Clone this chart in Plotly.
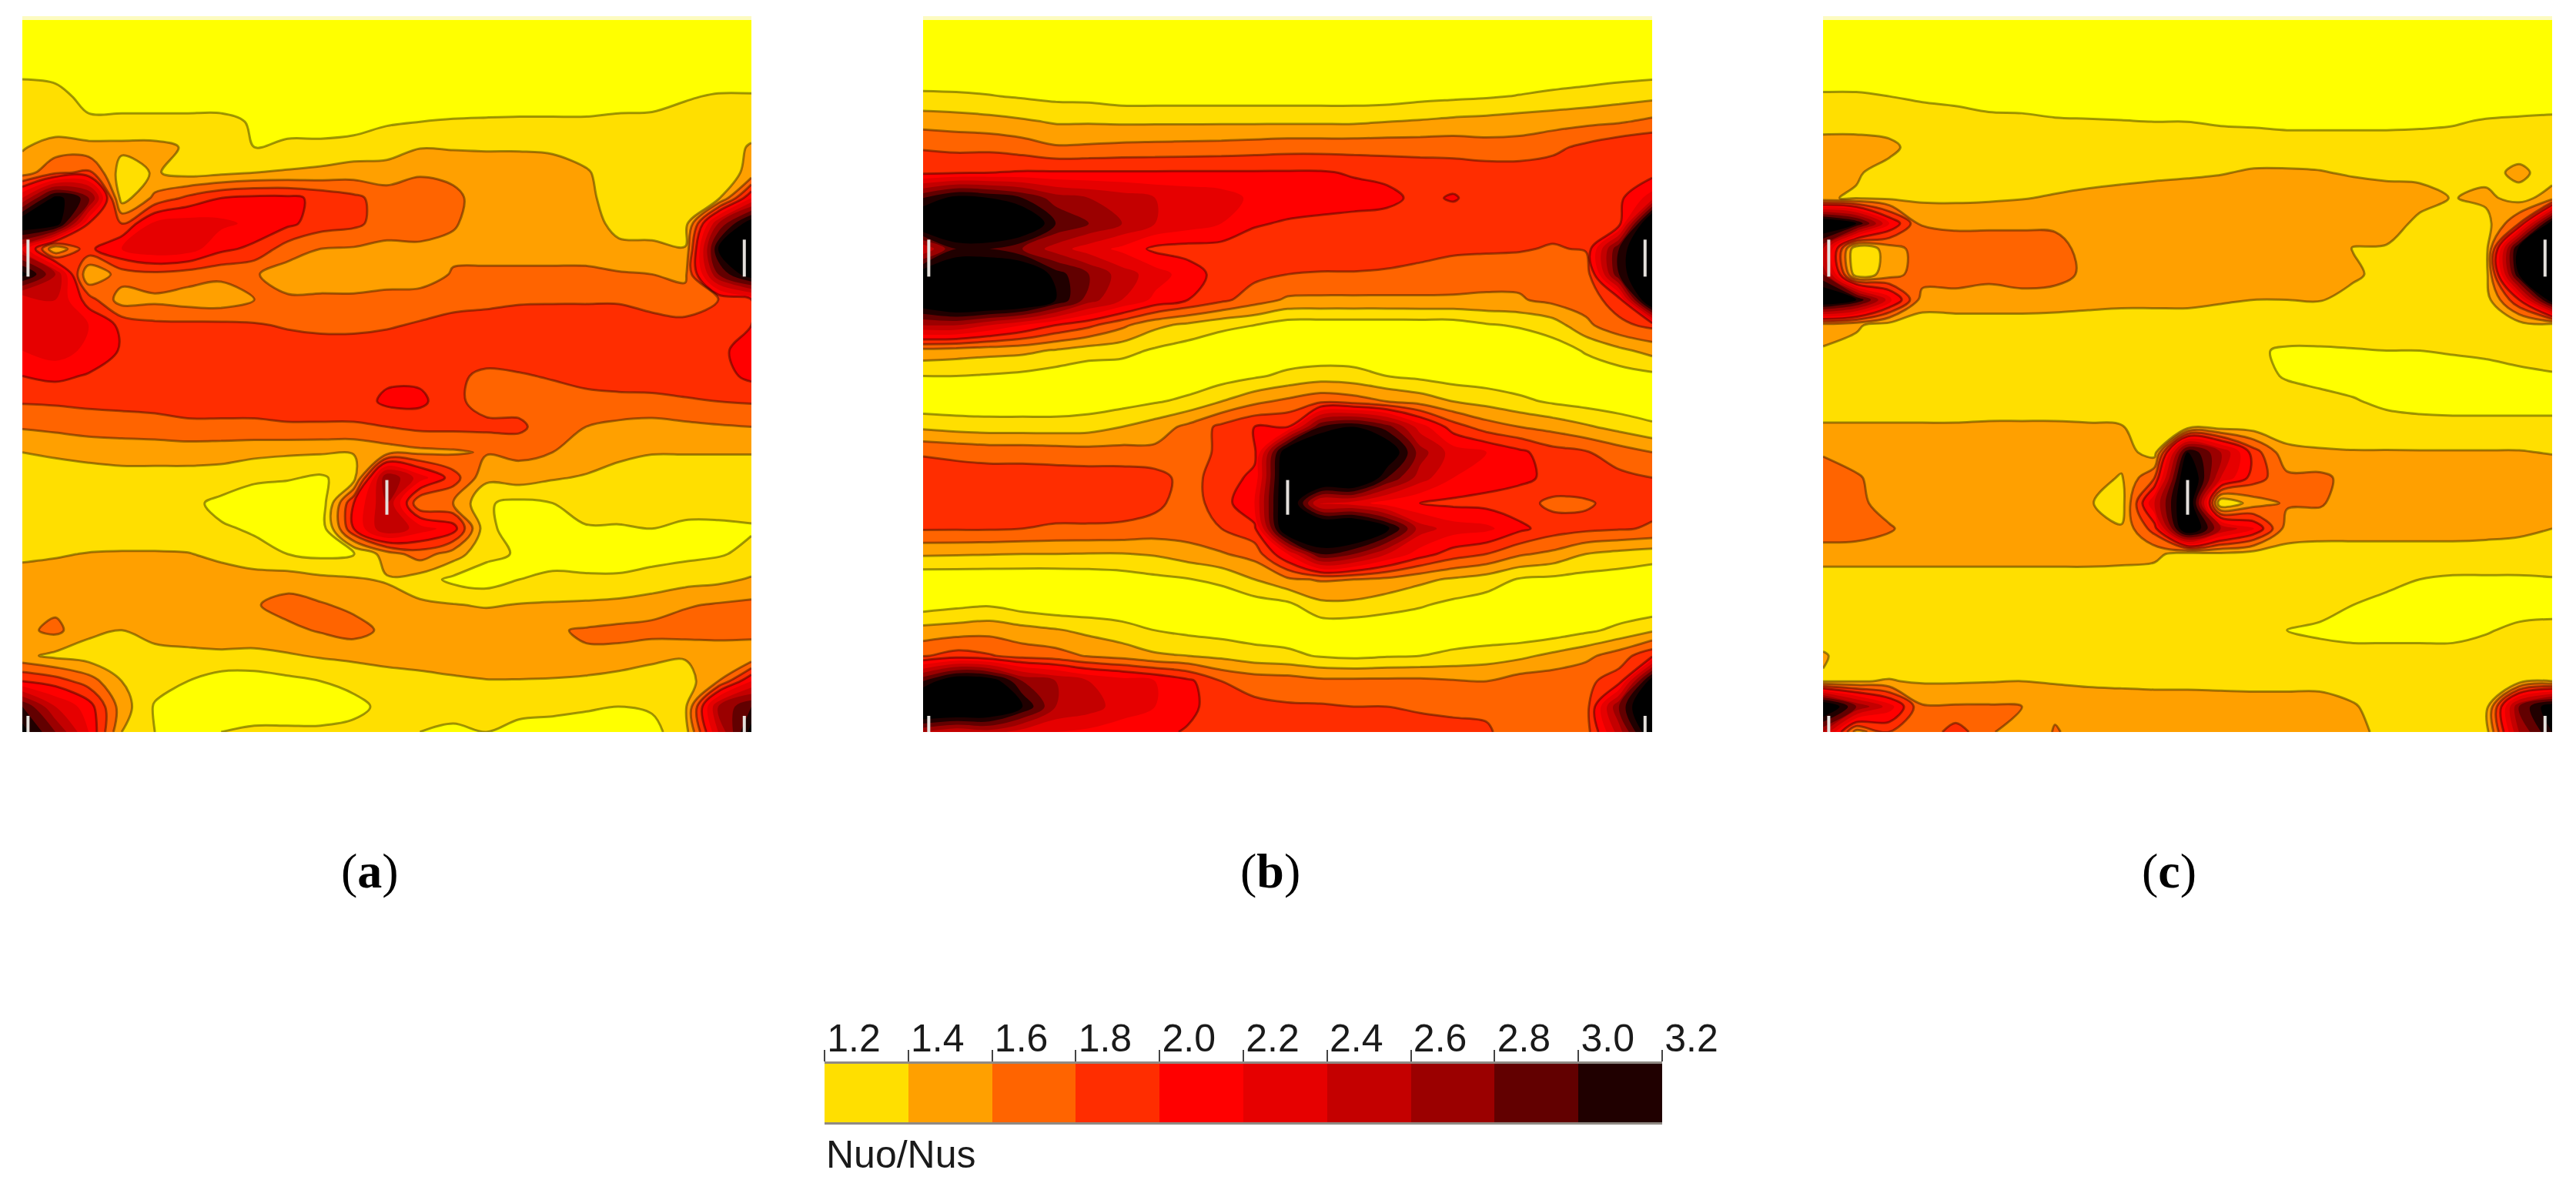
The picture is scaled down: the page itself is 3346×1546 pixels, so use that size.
import plotly.graph_objects as go

W, H = 3346, 1546

# grid positions inside one panel (same for all three)
x_pos = [0, 70, 140, 210, 280, 350, 420, 490, 560, 630, 700, 770, 840, 910, 980, 1050, 1120, 1190, 1260, 1330, 1400, 1470, 1540]
y_pos = [0, 55, 110, 165, 220, 275, 330, 385, 440, 495, 550, 605, 660, 715, 770, 825, 880, 935, 990, 1045, 1100, 1155, 1210, 1265, 1320, 1375, 1430, 1485, 1540]

levels = [1.2, 1.4, 1.6, 1.8, 2.0, 2.2, 2.4, 2.6, 2.8, 3.0, 3.2]
band_colors = ["#ffff00", "#ffdf00", "#ffa000", "#ff6400", "#ff2d00", "#ff0000", "#e60000",
               "#c40000", "#9b0000", "#620000", "#200000", "#000000"]
tick_labels = ["1.2", "1.4", "1.6", "1.8", "2.0", "2.2", "2.4", "2.6", "2.8", "3.0", "3.2"]
band_mid = [1.3, 1.5, 1.7, 1.9, 2.1, 2.3, 2.5, 2.7, 2.9, 3.1]
panel_labels = ["(<b>a</b>)", "(<b>b</b>)", "(<b>c</b>)"]

# Nuo/Nus, one row per y_pos
z_a = [
    [1.0, 1.0, 1.0, 1.0, 1.0, 1.0, 1.0, 1.0, 1.0, 1.0, 1.0, 1.0, 1.0, 1.0, 1.0, 1.0, 1.0, 1.0, 1.0, 1.0, 1.0, 1.0, 1.0],
    [1.0, 1.0, 1.0, 1.0, 1.0, 1.0, 1.0, 1.0, 1.0, 1.0, 1.0, 1.0, 1.0, 1.0, 1.0, 1.0, 1.0, 1.0, 1.0, 1.0, 1.0, 1.0, 1.0],
    [1.15, 1.1, 1.05, 1.0, 1.0, 1.0, 1.0, 1.0, 1.0, 1.0, 1.0, 1.0, 1.0, 1.0, 1.0, 1.0, 1.0, 1.0, 1.0, 1.0, 1.0, 1.05, 1.05],
    [1.3, 1.3, 1.1, 1.1, 1.1, 1.1, 1.1, 1.1, 1.05, 1.05, 1.05, 1.05, 1.05, 1.05, 1.05, 1.08, 1.08, 1.08, 1.1, 1.12, 1.18, 1.22, 1.22],
    [1.3, 1.25, 1.25, 1.25, 1.25, 1.25, 1.25, 1.18, 1.1, 1.1, 1.12, 1.18, 1.2, 1.22, 1.23, 1.23, 1.23, 1.23, 1.25, 1.25, 1.28, 1.3, 1.3],
    [1.38, 1.5, 1.45, 1.45, 1.45, 1.38, 1.25, 1.2, 1.25, 1.25, 1.27, 1.3, 1.39, 1.38, 1.38, 1.38, 1.37, 1.32, 1.3, 1.3, 1.3, 1.3, 1.42],
    [1.5, 1.75, 1.85, 1.3, 1.42, 1.32, 1.35, 1.4, 1.42, 1.45, 1.5, 1.5, 1.58, 1.55, 1.5, 1.5, 1.48, 1.42, 1.3, 1.3, 1.3, 1.3, 1.45],
    [2.4, 3.3, 2.9, 1.3, 1.65, 1.85, 2.0, 2.05, 2.05, 1.95, 1.85, 1.7, 1.7, 1.65, 1.5, 1.5, 1.5, 1.45, 1.3, 1.3, 1.3, 1.35, 2.2],
    [3.5, 3.4, 2.0, 1.8, 2.25, 2.3, 2.25, 2.15, 2.05, 1.9, 1.85, 1.7, 1.65, 1.62, 1.5, 1.5, 1.5, 1.5, 1.33, 1.3, 1.3, 2.6, 3.4],
    [2.4, 1.4, 1.95, 2.2, 2.35, 2.3, 2.05, 1.95, 1.7, 1.6, 1.58, 1.55, 1.58, 1.55, 1.5, 1.5, 1.5, 1.5, 1.45, 1.45, 1.41, 3.2, 3.4],
    [3.3, 2.6, 1.4, 1.7, 1.75, 1.7, 1.65, 1.62, 1.5, 1.45, 1.45, 1.45, 1.48, 1.62, 1.65, 1.65, 1.65, 1.65, 1.62, 1.6, 1.55, 2.8, 3.4],
    [2.2, 2.4, 1.9, 1.5, 1.55, 1.5, 1.48, 1.6, 1.63, 1.65, 1.65, 1.7, 1.7, 1.75, 1.77, 1.78, 1.78, 1.78, 1.78, 1.72, 1.7, 1.8, 2.0],
    [2.25, 2.35, 2.2, 1.95, 1.85, 1.85, 1.85, 1.82, 1.78, 1.75, 1.75, 1.78, 1.82, 1.85, 1.85, 1.88, 1.9, 1.9, 1.9, 1.88, 1.85, 1.9, 2.0],
    [2.2, 2.3, 2.15, 1.98, 1.9, 1.9, 1.9, 1.9, 1.9, 1.9, 1.9, 1.9, 1.9, 1.9, 1.92, 1.92, 1.92, 1.92, 1.92, 1.92, 1.92, 1.95, 2.1],
    [2.0, 2.05, 1.98, 1.9, 1.9, 1.9, 1.9, 1.9, 1.9, 1.9, 1.9, 1.95, 1.95, 1.85, 1.75, 1.78, 1.82, 1.88, 1.9, 1.9, 1.9, 1.92, 2.05],
    [1.82, 1.83, 1.85, 1.86, 1.87, 1.88, 1.88, 1.88, 1.88, 1.88, 1.88, 2.05, 2.05, 1.85, 1.72, 1.7, 1.7, 1.72, 1.74, 1.75, 1.78, 1.8, 1.82],
    [1.62, 1.65, 1.68, 1.7, 1.72, 1.76, 1.76, 1.76, 1.78, 1.78, 1.78, 1.8, 1.85, 1.85, 1.85, 1.85, 1.65, 1.6, 1.55, 1.52, 1.55, 1.58, 1.6],
    [1.4, 1.43, 1.47, 1.48, 1.48, 1.48, 1.47, 1.45, 1.43, 1.42, 1.41, 1.5, 1.55, 1.57, 1.62, 1.65, 1.6, 1.52, 1.45, 1.41, 1.41, 1.41, 1.41],
    [1.3, 1.3, 1.3, 1.33, 1.33, 1.33, 1.32, 1.25, 1.22, 1.17, 1.3, 2.8, 2.3, 1.9, 1.45, 1.5, 1.42, 1.38, 1.32, 1.3, 1.3, 1.3, 1.3],
    [1.25, 1.25, 1.25, 1.25, 1.25, 1.25, 1.15, 1.05, 1.05, 1.05, 2.0, 2.6, 1.6, 1.6, 1.22, 1.15, 1.2, 1.3, 1.3, 1.3, 1.3, 1.3, 1.28],
    [1.25, 1.25, 1.25, 1.25, 1.25, 1.25, 1.22, 1.18, 1.1, 1.05, 2.0, 2.6, 2.3, 2.1, 1.25, 1.1, 1.18, 1.18, 1.18, 1.2, 1.15, 1.15, 1.18],
    [1.35, 1.38, 1.41, 1.42, 1.42, 1.41, 1.35, 1.25, 1.2, 1.15, 1.18, 1.5, 1.7, 1.5, 1.25, 1.18, 1.1, 1.05, 1.05, 1.1, 1.15, 1.18, 1.25],
    [1.5, 1.5, 1.5, 1.52, 1.52, 1.52, 1.5, 1.5, 1.5, 1.45, 1.42, 1.38, 1.3, 1.15, 1.1, 1.2, 1.25, 1.25, 1.25, 1.3, 1.32, 1.35, 1.42],
    [1.55, 1.55, 1.55, 1.55, 1.55, 1.55, 1.55, 1.58, 1.68, 1.62, 1.55, 1.5, 1.43, 1.41, 1.38, 1.41, 1.42, 1.43, 1.45, 1.48, 1.58, 1.62, 1.65],
    [1.55, 1.65, 1.45, 1.4, 1.48, 1.5, 1.52, 1.52, 1.55, 1.62, 1.68, 1.55, 1.52, 1.52, 1.55, 1.55, 1.58, 1.62, 1.65, 1.68, 1.7, 1.72, 1.7],
    [1.45, 1.35, 1.3, 1.3, 1.33, 1.35, 1.36, 1.35, 1.38, 1.42, 1.45, 1.48, 1.5, 1.5, 1.52, 1.52, 1.55, 1.58, 1.55, 1.45, 1.42, 1.42, 1.42],
    [2.0, 1.9, 1.7, 1.4, 1.28, 1.2, 1.1, 1.1, 1.15, 1.2, 1.25, 1.3, 1.33, 1.37, 1.39, 1.39, 1.38, 1.35, 1.3, 1.3, 1.3, 1.6, 2.2],
    [3.0, 2.4, 2.1, 1.5, 1.18, 1.1, 1.05, 1.05, 1.05, 1.05, 1.15, 1.25, 1.3, 1.3, 1.3, 1.25, 1.25, 1.22, 1.2, 1.22, 1.35, 2.6, 3.0],
    [3.3, 2.8, 2.2, 1.4, 1.2, 1.15, 1.2, 1.25, 1.25, 1.25, 1.25, 1.25, 1.2, 1.15, 1.2, 1.15, 1.12, 1.12, 1.12, 1.15, 1.3, 2.4, 3.3],
]

z_b = [
    [1.0, 1.0, 1.0, 1.0, 1.0, 1.0, 1.0, 1.0, 1.0, 1.0, 1.0, 1.0, 1.0, 1.0, 1.0, 1.0, 1.0, 1.0, 1.0, 1.0, 1.0, 1.0, 1.0],
    [1.0, 1.0, 1.0, 1.0, 1.0, 1.0, 1.0, 1.0, 1.0, 1.0, 1.0, 1.0, 1.0, 1.0, 1.0, 1.0, 1.0, 1.0, 1.0, 1.0, 1.0, 1.0, 1.0],
    [1.05, 1.05, 1.05, 1.05, 1.05, 1.05, 1.05, 1.05, 1.05, 1.05, 1.05, 1.05, 1.05, 1.05, 1.05, 1.05, 1.05, 1.05, 1.05, 1.05, 1.08, 1.1, 1.12],
    [1.24, 1.23, 1.21, 1.18, 1.15, 1.14, 1.1, 1.1, 1.1, 1.1, 1.1, 1.1, 1.1, 1.1, 1.1, 1.14, 1.16, 1.18, 1.21, 1.25, 1.28, 1.32, 1.35],
    [1.52, 1.5, 1.47, 1.43, 1.38, 1.38, 1.37, 1.37, 1.37, 1.37, 1.37, 1.37, 1.37, 1.37, 1.4, 1.42, 1.45, 1.47, 1.5, 1.52, 1.55, 1.58, 1.65],
    [1.78, 1.75, 1.75, 1.7, 1.62, 1.63, 1.65, 1.66, 1.67, 1.68, 1.7, 1.72, 1.72, 1.72, 1.72, 1.72, 1.72, 1.68, 1.68, 1.75, 1.85, 1.95, 2.0],
    [1.95, 1.98, 2.0, 2.02, 2.02, 2.02, 2.02, 2.02, 2.02, 2.02, 2.02, 2.02, 2.02, 1.98, 1.95, 1.92, 1.9, 1.9, 1.9, 1.9, 1.9, 1.9, 1.92],
    [3.0, 3.3, 3.2, 3.0, 2.7, 2.6, 2.5, 2.4, 2.35, 2.3, 2.15, 2.1, 2.1, 2.08, 2.05, 1.95, 2.02, 1.9, 1.9, 1.9, 1.9, 1.95, 2.3],
    [3.6, 3.8, 3.8, 3.6, 3.0, 2.8, 2.6, 2.4, 2.3, 2.2, 2.02, 1.98, 1.95, 1.93, 1.92, 1.9, 1.88, 1.88, 1.88, 1.88, 1.85, 1.9, 3.8],
    [2.4, 3.0, 3.0, 2.8, 2.5, 2.3, 2.15, 1.95, 1.92, 1.92, 1.9, 1.88, 1.88, 1.88, 1.87, 1.87, 1.83, 1.83, 1.82, 1.78, 1.82, 3.0, 3.8],
    [3.4, 3.6, 3.6, 3.6, 3.1, 2.8, 2.5, 2.3, 2.1, 1.92, 1.85, 1.8, 1.79, 1.79, 1.78, 1.74, 1.72, 1.67, 1.66, 1.65, 1.65, 3.0, 3.8],
    [3.5, 3.8, 3.8, 3.7, 3.2, 2.7, 2.4, 2.15, 2.0, 1.85, 1.7, 1.57, 1.56, 1.56, 1.56, 1.57, 1.57, 1.57, 1.58, 1.66, 1.7, 1.9, 3.8],
    [2.6, 2.6, 2.4, 2.2, 2.0, 1.85, 1.65, 1.45, 1.35, 1.25, 1.2, 1.1, 1.1, 1.1, 1.1, 1.1, 1.1, 1.18, 1.22, 1.3, 1.55, 1.75, 1.85],
    [1.53, 1.5, 1.47, 1.45, 1.38, 1.3, 1.27, 1.17, 1.1, 1.05, 1.05, 1.05, 1.05, 1.05, 1.05, 1.05, 1.05, 1.05, 1.05, 1.1, 1.22, 1.35, 1.47],
    [1.2, 1.2, 1.18, 1.15, 1.1, 1.05, 1.05, 1.05, 1.05, 1.1, 1.17, 1.25, 1.3, 1.28, 1.2, 1.15, 1.1, 1.08, 1.05, 1.05, 1.08, 1.1, 1.15],
    [1.05, 1.05, 1.05, 1.05, 1.05, 1.08, 1.12, 1.18, 1.25, 1.4, 1.55, 1.65, 1.75, 1.7, 1.6, 1.52, 1.4, 1.33, 1.25, 1.17, 1.12, 1.08, 1.05],
    [1.36, 1.32, 1.3, 1.3, 1.3, 1.32, 1.4, 1.5, 1.65, 1.85, 2.0, 2.0, 3.0, 3.2, 2.9, 2.3, 1.9, 1.7, 1.6, 1.53, 1.43, 1.33, 1.24],
    [1.78, 1.75, 1.72, 1.72, 1.7, 1.68, 1.68, 1.65, 1.68, 1.85, 1.95, 3.5, 3.8, 3.8, 3.5, 2.7, 2.3, 2.2, 2.05, 1.88, 1.82, 1.7, 1.6],
    [1.9, 1.9, 1.9, 1.9, 1.9, 1.9, 1.9, 1.88, 1.72, 1.9, 2.05, 3.6, 3.8, 3.8, 3.0, 2.5, 2.2, 2.1, 2.05, 1.95, 1.9, 1.85, 1.8],
    [1.88, 1.88, 1.88, 1.88, 1.88, 1.88, 1.88, 1.85, 1.7, 1.9, 2.2, 3.6, 2.3, 2.3, 2.1, 2.0, 1.95, 1.93, 1.88, 1.75, 1.78, 1.85, 1.85],
    [1.82, 1.82, 1.82, 1.8, 1.78, 1.78, 1.77, 1.72, 1.72, 1.8, 1.95, 3.6, 3.8, 3.8, 3.3, 2.5, 2.3, 2.25, 2.05, 1.9, 1.85, 1.82, 1.78],
    [1.43, 1.42, 1.41, 1.4, 1.4, 1.39, 1.39, 1.42, 1.5, 1.58, 1.68, 2.2, 3.0, 2.8, 2.4, 2.1, 1.9, 1.8, 1.63, 1.55, 1.4, 1.34, 1.3],
    [1.05, 1.05, 1.05, 1.05, 1.05, 1.07, 1.1, 1.15, 1.19, 1.25, 1.4, 1.56, 1.62, 1.6, 1.55, 1.45, 1.37, 1.3, 1.18, 1.15, 1.12, 1.1, 1.05],
    [1.1, 1.15, 1.18, 1.1, 1.05, 1.05, 1.05, 1.05, 1.05, 1.05, 1.1, 1.15, 1.35, 1.35, 1.28, 1.22, 1.15, 1.1, 1.05, 1.05, 1.05, 1.05, 1.05],
    [1.47, 1.5, 1.53, 1.47, 1.42, 1.35, 1.28, 1.2, 1.15, 1.12, 1.1, 1.08, 1.05, 1.05, 1.05, 1.05, 1.05, 1.05, 1.05, 1.08, 1.16, 1.25, 1.37],
    [1.78, 1.88, 1.82, 1.72, 1.68, 1.58, 1.52, 1.43, 1.4, 1.35, 1.28, 1.25, 1.18, 1.15, 1.18, 1.2, 1.25, 1.3, 1.35, 1.45, 1.55, 1.7, 1.95],
    [3.0, 3.5, 3.4, 2.8, 2.6, 2.4, 2.3, 2.2, 2.05, 1.8, 1.72, 1.7, 1.65, 1.65, 1.65, 1.65, 1.62, 1.6, 1.7, 1.72, 1.75, 1.9, 3.4],
    [3.8, 3.8, 3.7, 3.2, 2.6, 2.5, 2.3, 2.2, 2.05, 1.9, 1.85, 1.82, 1.82, 1.8, 1.8, 1.78, 1.77, 1.77, 1.7, 1.7, 1.7, 2.8, 3.8],
    [2.6, 2.4, 2.5, 2.3, 2.2, 2.15, 2.1, 2.05, 1.98, 1.95, 1.92, 1.9, 1.9, 1.9, 1.88, 1.86, 1.84, 1.82, 1.72, 1.7, 1.7, 2.5, 3.5],
]

z_c = [
    [1.0, 1.0, 1.0, 1.0, 1.0, 1.0, 1.0, 1.0, 1.0, 1.0, 1.0, 1.0, 1.0, 1.0, 1.0, 1.0, 1.0, 1.0, 1.0, 1.0, 1.0, 1.0, 1.0],
    [1.0, 1.0, 1.0, 1.0, 1.0, 1.0, 1.0, 1.0, 1.0, 1.0, 1.0, 1.0, 1.0, 1.0, 1.0, 1.0, 1.0, 1.0, 1.0, 1.0, 1.0, 1.0, 1.0],
    [1.05, 1.05, 1.05, 1.05, 1.0, 1.0, 1.0, 1.0, 1.0, 1.0, 1.0, 1.0, 1.0, 1.0, 1.0, 1.0, 1.0, 1.0, 1.0, 1.0, 1.0, 1.0, 1.0],
    [1.23, 1.23, 1.2, 1.17, 1.15, 1.12, 1.1, 1.05, 1.05, 1.05, 1.05, 1.05, 1.05, 1.05, 1.05, 1.05, 1.05, 1.05, 1.05, 1.05, 1.05, 1.05, 1.05],
    [1.3, 1.3, 1.3, 1.3, 1.28, 1.25, 1.25, 1.23, 1.22, 1.21, 1.2, 1.2, 1.18, 1.17, 1.15, 1.15, 1.15, 1.15, 1.16, 1.18, 1.22, 1.24, 1.26],
    [1.5, 1.5, 1.45, 1.3, 1.3, 1.3, 1.3, 1.3, 1.3, 1.3, 1.3, 1.3, 1.3, 1.3, 1.3, 1.3, 1.3, 1.3, 1.3, 1.3, 1.3, 1.3, 1.3],
    [1.48, 1.42, 1.33, 1.3, 1.3, 1.3, 1.3, 1.3, 1.3, 1.33, 1.35, 1.37, 1.39, 1.42, 1.42, 1.41, 1.38, 1.36, 1.35, 1.33, 1.33, 1.45, 1.3],
    [1.42, 1.38, 1.36, 1.36, 1.36, 1.37, 1.39, 1.42, 1.46, 1.48, 1.5, 1.5, 1.5, 1.52, 1.52, 1.52, 1.5, 1.48, 1.47, 1.39, 1.45, 1.32, 1.5],
    [3.6, 3.2, 2.2, 1.58, 1.56, 1.57, 1.57, 1.59, 1.6, 1.52, 1.52, 1.52, 1.52, 1.52, 1.52, 1.52, 1.5, 1.5, 1.35, 1.3, 1.32, 1.8, 3.4],
    [2.6, 1.2, 1.5, 1.7, 1.7, 1.68, 1.68, 1.62, 1.58, 1.5, 1.5, 1.5, 1.5, 1.5, 1.5, 1.5, 1.39, 1.38, 1.32, 1.3, 1.3, 3.3, 3.6],
    [2.8, 1.25, 1.5, 1.72, 1.7, 1.65, 1.7, 1.68, 1.55, 1.5, 1.5, 1.5, 1.5, 1.5, 1.5, 1.5, 1.45, 1.3, 1.3, 1.3, 1.3, 3.2, 3.6],
    [3.6, 3.2, 2.3, 1.5, 1.52, 1.52, 1.52, 1.5, 1.47, 1.45, 1.45, 1.45, 1.42, 1.4, 1.4, 1.41, 1.3, 1.3, 1.3, 1.3, 1.3, 2.0, 3.4],
    [1.5, 1.43, 1.3, 1.3, 1.3, 1.3, 1.3, 1.3, 1.3, 1.3, 1.3, 1.3, 1.3, 1.3, 1.3, 1.3, 1.3, 1.3, 1.3, 1.3, 1.3, 1.3, 1.3],
    [1.38, 1.33, 1.3, 1.3, 1.3, 1.3, 1.3, 1.3, 1.3, 1.3, 1.3, 1.3, 1.3, 1.22, 1.18, 1.18, 1.19, 1.2, 1.2, 1.22, 1.25, 1.28, 1.3],
    [1.3, 1.3, 1.3, 1.3, 1.3, 1.3, 1.3, 1.3, 1.3, 1.3, 1.3, 1.3, 1.3, 1.27, 1.18, 1.1, 1.1, 1.1, 1.1, 1.1, 1.1, 1.15, 1.18],
    [1.3, 1.3, 1.3, 1.3, 1.3, 1.3, 1.3, 1.3, 1.3, 1.3, 1.3, 1.3, 1.3, 1.3, 1.3, 1.3, 1.22, 1.15, 1.12, 1.1, 1.1, 1.1, 1.1],
    [1.42, 1.42, 1.42, 1.42, 1.42, 1.43, 1.43, 1.43, 1.42, 1.41, 1.3, 1.3, 1.3, 1.3, 1.3, 1.3, 1.3, 1.3, 1.28, 1.28, 1.28, 1.28, 1.28],
    [1.58, 1.52, 1.5, 1.5, 1.5, 1.5, 1.5, 1.5, 1.5, 1.5, 1.3, 3.2, 2.6, 1.9, 1.45, 1.42, 1.41, 1.41, 1.41, 1.41, 1.41, 1.41, 1.39],
    [1.7, 1.62, 1.52, 1.5, 1.5, 1.5, 1.5, 1.5, 1.5, 1.38, 1.8, 3.6, 2.4, 1.9, 1.65, 1.65, 1.52, 1.5, 1.5, 1.5, 1.5, 1.5, 1.5],
    [1.62, 1.65, 1.52, 1.5, 1.5, 1.5, 1.5, 1.5, 1.42, 1.3, 2.4, 3.6, 1.2, 1.5, 1.63, 1.62, 1.5, 1.5, 1.5, 1.5, 1.5, 1.5, 1.5],
    [1.72, 1.7, 1.62, 1.5, 1.5, 1.5, 1.5, 1.5, 1.5, 1.42, 1.9, 3.6, 2.6, 2.2, 1.5, 1.5, 1.5, 1.5, 1.5, 1.5, 1.48, 1.45, 1.4],
    [1.5, 1.5, 1.5, 1.5, 1.5, 1.5, 1.5, 1.5, 1.5, 1.48, 1.45, 1.3, 1.35, 1.3, 1.33, 1.3, 1.3, 1.3, 1.3, 1.3, 1.3, 1.3, 1.3],
    [1.3, 1.3, 1.3, 1.3, 1.3, 1.3, 1.3, 1.3, 1.3, 1.3, 1.3, 1.3, 1.3, 1.3, 1.3, 1.3, 1.3, 1.25, 1.2, 1.18, 1.18, 1.18, 1.19],
    [1.3, 1.3, 1.3, 1.3, 1.3, 1.3, 1.3, 1.3, 1.3, 1.3, 1.3, 1.3, 1.3, 1.3, 1.3, 1.3, 1.2, 1.15, 1.1, 1.1, 1.1, 1.1, 1.1],
    [1.3, 1.3, 1.3, 1.3, 1.3, 1.3, 1.3, 1.3, 1.3, 1.3, 1.3, 1.3, 1.3, 1.3, 1.2, 1.15, 1.1, 1.1, 1.1, 1.1, 1.18, 1.25, 1.28],
    [1.42, 1.3, 1.3, 1.3, 1.3, 1.3, 1.3, 1.3, 1.3, 1.3, 1.3, 1.3, 1.3, 1.3, 1.3, 1.3, 1.3, 1.3, 1.3, 1.3, 1.3, 1.3, 1.3],
    [1.38, 1.39, 1.41, 1.38, 1.38, 1.39, 1.4, 1.38, 1.37, 1.36, 1.35, 1.35, 1.34, 1.33, 1.33, 1.33, 1.3, 1.3, 1.3, 1.3, 1.3, 1.3, 1.4],
    [3.6, 2.8, 2.3, 1.62, 1.62, 1.62, 1.6, 1.55, 1.5, 1.5, 1.5, 1.5, 1.5, 1.5, 1.5, 1.5, 1.42, 1.3, 1.3, 1.3, 1.3, 2.8, 3.4],
    [2.6, 1.5, 1.8, 1.65, 1.9, 1.65, 1.4, 1.62, 1.5, 1.5, 1.5, 1.5, 1.5, 1.5, 1.5, 1.5, 1.45, 1.35, 1.3, 1.3, 1.3, 2.6, 3.2],
]

# plates: x, top, bottom in panel units
plate_x = [12, 770, 1525, 12, 1525]
plate_top = [475, 995, 475, 1505, 1505]
plate_bottom = [555, 1070, 555, 1540, 1540]

# panel boxes in pixels: left, right, top, bottom
panel_boxes = [(29, 976, 26, 951), (1199, 2146, 26, 951), (2368, 3315, 26, 951)]
bar_box = (1071, 2159, 1382, 1458)
label_px = [(480, 1131), (1650, 1131), (2817, 1131)]
line_levels = (1.2, 2.0)


def dom_x(a, b):
    return [a / W, b / W]


def dom_y(top, bottom):
    return [1 - bottom / H, 1 - top / H]


# one flat colour per band, 1.0 to 3.4 in steps of 0.2
n_bands = len(band_colors)
colorscale = []
for i, c in enumerate(band_colors):
    colorscale.append([i / n_bands, c])
    colorscale.append([(i + 1) / n_bands, c])

fig = go.Figure()

plate_xs, plate_ys = [], []
for x0, t, b in zip(plate_x, plate_top, plate_bottom):
    plate_xs += [x0, x0, None]
    plate_ys += [t, b, None]

layout_axes = {}
strips = []
for k, (z, box) in enumerate(zip([z_a, z_b, z_c], panel_boxes)):
    suffix = "" if k == 0 else str(k + 1)
    # filled bands, no lines
    fig.add_trace(go.Contour(
        x=x_pos, y=y_pos, z=z,
        xaxis="x" + suffix, yaxis="y" + suffix,
        zmin=1.0, zmax=3.4,
        colorscale=colorscale, showscale=False,
        contours=dict(coloring="fill", start=levels[0], end=levels[-1], size=0.2),
        line=dict(width=0, smoothing=1.0),
    ))
    # the lines only show up on the lower levels in the original
    fig.add_trace(go.Contour(
        x=x_pos, y=y_pos, z=z,
        xaxis="x" + suffix, yaxis="y" + suffix,
        showscale=False,
        contours=dict(coloring="none", start=line_levels[0], end=line_levels[1], size=0.2),
        line=dict(color="rgba(0,0,0,0.38)", width=3, smoothing=1.0),
    ))
    fig.add_trace(go.Scatter(
        x=plate_xs, y=plate_ys, mode="lines",
        xaxis="x" + suffix, yaxis="y" + suffix,
        line=dict(color="#e4e0dc", width=4), showlegend=False, hoverinfo="skip",
    ))
    layout_axes["xaxis" + suffix] = dict(domain=dom_x(box[0], box[1]), range=[0, 1540], visible=False)
    layout_axes["yaxis" + suffix] = dict(domain=dom_y(box[2], box[3]), range=[1540, 0], visible=False)
    # pale rim along the top of each panel
    strips.append(dict(type="rect", xref="paper", yref="paper", line_width=0, fillcolor="#fdfbc0",
                       x0=box[0] / W, x1=box[1] / W, y0=1 - box[2] / H, y1=1 - (box[2] - 5) / H))

# legend bar on its own axes
fig.add_trace(go.Heatmap(
    x=levels, y=[0, 1], z=[band_mid],
    xaxis="x4", yaxis="y4",
    zmin=1.0, zmax=3.4, colorscale=colorscale, showscale=False,
))
layout_axes["xaxis4"] = dict(
    domain=dom_x(bar_box[0], bar_box[1]), range=[levels[0], levels[-1]], side="top", anchor="y4",
    tickmode="array", tickvals=levels, ticktext=tick_labels,
    ticks="outside", ticklen=15, tickwidth=1.5, tickcolor="#444444",
    ticklabelshift=38, ticklabelstandoff=-22, ticklabeloverflow="allow", showgrid=False, zeroline=False,
    showline=True, mirror=True, linecolor="rgba(70,60,50,0.6)", linewidth=3,
    tickfont=dict(family="Liberation Sans", size=50, color="#1a1a1a"),
)
layout_axes["yaxis4"] = dict(domain=dom_y(bar_box[2], bar_box[3]), range=[0, 1], visible=False, anchor="x4")

annotations = [
    dict(text=t, x=px / W, y=1 - py / H, xref="paper", yref="paper", xanchor="center", yanchor="middle",
         showarrow=False, font=dict(family="Liberation Serif", size=64, color="black"))
    for t, (px, py) in zip(panel_labels, label_px)
]
annotations.append(dict(
    text="Nuo/Nus", x=bar_box[0] / W, y=1 - 1500 / H, xref="paper", yref="paper",
    xanchor="left", yanchor="middle",
    showarrow=False, font=dict(family="Liberation Sans", size=50, color="#1a1a1a"),
))

fig.update_layout(
    width=W, height=H, margin=dict(l=0, r=0, t=0, b=0, autoexpand=False),
    paper_bgcolor="white", plot_bgcolor="white", showlegend=False,
    annotations=annotations, shapes=strips, **layout_axes,
)

fig.write_html("out.html", config={"displayModeBar": False},
               post_script="document.body.style.margin='0';document.body.style.overflow='hidden';")
